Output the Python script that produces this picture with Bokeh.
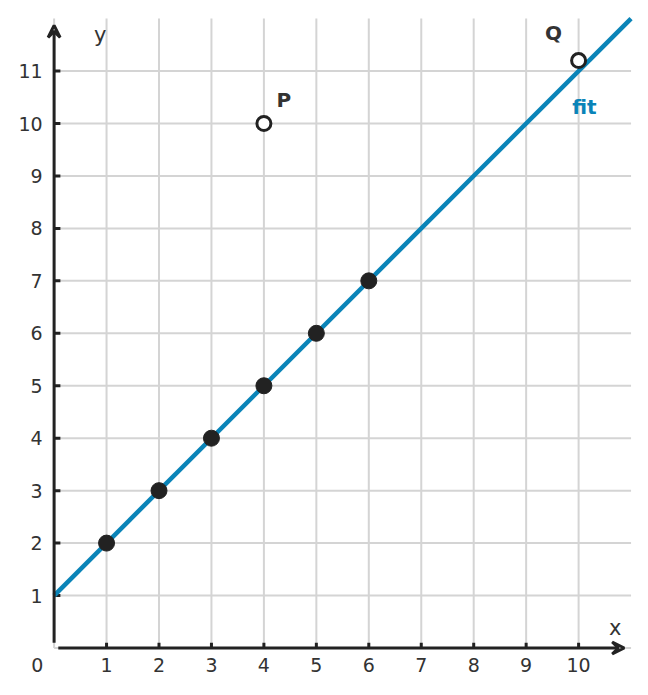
from bokeh.plotting import figure
from bokeh.models import Range1d, Arrow, VeeHead
from bokeh.core.properties import value
from bokeh.embed import file_html
from bokeh.resources import INLINE

# data
fit_x = [1, 2, 3, 4, 5, 6]
fit_y = [2, 3, 4, 5, 6, 7]
out_x = [4, 10]
out_y = [10, 11.2]
out_names = ["P", "Q"]
line_x = [0, 11]
line_y = [1, 12]
x_ticks = [1, 2, 3, 4, 5, 6, 7, 8, 9, 10]
y_ticks = [1, 2, 3, 4, 5, 6, 7, 8, 9, 10, 11]

FONT = value("DejaVu Sans")
DARK = "#222222"
BLUE = "#0a84b8"
GRID = "#d4d4d4"

W, H = 640, 688
S = 52.45
x0 = -53.6 / S
y1 = 647.5 / S
p = figure(width=W, height=H, output_backend="svg", toolbar_location=None,
           x_range=Range1d(x0, x0 + W / S), y_range=Range1d(y1 - H / S, y1),
           x_axis_type=None, y_axis_type=None, min_border=0)
p.outline_line_color = None
p.xgrid.visible = False
p.ygrid.visible = False

# grid
gx = list(range(0, 11))
p.segment(x0=gx, y0=[0] * len(gx), x1=gx, y1=[12] * len(gx), line_color=GRID, line_width=2)
gy = list(range(0, 12))
p.segment(x0=[0] * len(gy), y0=gy, x1=[11] * len(gy), y1=gy, line_color=GRID, line_width=2)

# axes arrows
p.add_layout(Arrow(x_start=0.08, y_start=0, x_end=10.87, y_end=0, line_color=DARK, line_width=3,
                   end=VeeHead(size=12, line_color=DARK, line_width=3, fill_color=None)))
p.add_layout(Arrow(x_start=0, y_start=0.1, x_end=0, y_end=11.87, line_color=DARK, line_width=3,
                   end=VeeHead(size=12, line_color=DARK, line_width=3, fill_color=None)))

# tick marks
p.segment(x0=x_ticks, y0=[0] * len(x_ticks), x1=x_ticks, y1=[0.1] * len(x_ticks), line_color=DARK, line_width=3)
p.segment(x0=[0] * len(y_ticks), y0=y_ticks, x1=[0.12] * len(y_ticks), y1=y_ticks, line_color=DARK, line_width=3)

# tick labels
p.text(x=x_ticks, y=[-0.33] * len(x_ticks), text=[str(v) for v in x_ticks], text_font=FONT,
       text_font_size="19px", text_color="#333333", text_align="center", text_baseline="middle")
p.text(x=[-0.22] * len(y_ticks), y=y_ticks, text=[str(v) for v in y_ticks], text_font=FONT,
       text_font_size="19px", text_color="#333333", text_align="right", text_baseline="middle")
p.text(x=[-0.32], y=[-0.33], text=["0"], text_font=FONT,
       text_font_size="19px", text_color="#333333", text_align="center", text_baseline="middle")
p.text(x=[10.7], y=[0.38], text=["x"], text_font=FONT, text_font_size="21px",
       text_color="#333333", text_align="center", text_baseline="middle")
p.text(x=[0.88], y=[11.68], text=["y"], text_font=FONT, text_font_size="21px",
       text_color="#333333", text_align="center", text_baseline="middle")

# fit line
p.line(line_x, line_y, line_color=BLUE, line_width=4.5)

# points
p.scatter(fit_x, fit_y, size=16, fill_color=DARK, line_color=DARK)
p.scatter(out_x, out_y, size=14, fill_color="white", line_color=DARK, line_width=3)

# labels
p.text(x=[4.38, 9.52], y=[10.45, 11.72], text=out_names, text_font=FONT, text_font_size="20px",
       text_font_style="bold", text_color="#333333", text_align="center", text_baseline="middle")
p.text(x=[10.11], y=[10.32], text=["fit"], text_font=FONT, text_font_size="20px",
       text_font_style="bold", text_color=BLUE, text_align="center", text_baseline="middle")

open("out.html", "w").write(file_html(p, INLINE))
